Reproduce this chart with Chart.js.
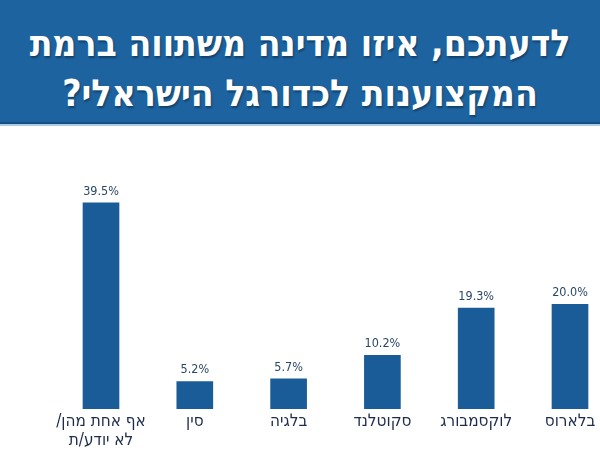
<!DOCTYPE html>
<html lang="he" dir="rtl">
<head>
<meta charset="utf-8">
<script src="https://cdn.jsdelivr.net/npm/chart.js@4"></script>
<style>
    html, body { margin: 0; padding: 0; background: #fff; }
    #wrap { width: 600px; height: 450px; position: relative; overflow: hidden; }
    #header {
        height: 124px;
        background: #1d63a0;
        border-bottom: 2px solid #174f82;
        box-shadow: 0 2px 0 #a9cbe8;
        color: #fff;
        text-align: center;
        font-family: "DejaVu Sans Condensed", "DejaVu Sans", sans-serif;
        font-weight: bold;
        font-size: 37px;
        line-height: 50px;
        padding-top: 19px;
        box-sizing: border-box;
        text-shadow: 1px 2px 2px rgba(0, 0, 0, 0.35);
    }
    #chartCountries { position: absolute; left: 0; top: 138px; }
</style>
</head>
<body>
<div id="wrap">
    <div id="header">לדעתכם, איזו מדינה משתווה ברמת<br>המקצוענות לכדורגל הישראלי?</div>
    <canvas id="chartCountries" width="600" height="316"></canvas>
</div>
<script>
// CATEGORIES (left to right, as in the picture)
var categories = [
    ["אף אחת מהן/", "לא יודע/ת"],
    "סין",
    "בלגיה",
    "סקוטלנד",
    "לוקסמבורג",
    "בלארוס"
];

// SERIES VALUES (percent)
var percentValues = [39.5, 5.2, 5.7, 10.2, 19.3, 20.0];

var barColor = "#1a5c98";

// VALUE LABELS ABOVE BARS
var valueLabels = {
    id: 'valueLabels',
    afterDatasetsDraw: function(chart) {
        var ctx = chart.ctx;
        var meta = chart.getDatasetMeta(0);
        ctx.save();
        ctx.font = "12.5px 'DejaVu Sans Condensed', 'DejaVu Sans', sans-serif";
        ctx.fillStyle = "#2b4766";
        ctx.textAlign = "center";
        ctx.textBaseline = "bottom";
        ctx.direction = "ltr";
        for (var i = 0; i < meta.data.length; i++) {
            var bar = meta.data[i];
            ctx.fillText(percentValues[i].toFixed(1) + "%", bar.x, bar.y - 5);
        }
        ctx.restore();
    }
};

var ctx = document.getElementById("chartCountries").getContext('2d');
var countriesChart = new Chart(ctx, {
    type: 'bar',
    data: {
        labels: categories,
        datasets: [{
            data: percentValues,
            backgroundColor: barColor,
            barThickness: 36,
            clip: false
        }]
    },
    options: {
        responsive: false,
        animation: false,
        layout: {
            padding: { left: 101, right: 30, top: 10, bottom: 0 }
        },
        plugins: {
            legend: { display: false },
            tooltip: { enabled: false }
        },
        scales: {
            x: {
                offset: false,
                grid: { display: false, drawTicks: false },
                border: { display: false },
                ticks: {
                    color: "#1e2c4c",
                    font: { family: "'DejaVu Sans Condensed', 'DejaVu Sans', sans-serif", size: 17, lineHeight: 1.1 },
                    padding: 4,
                    maxRotation: 0,
                    autoSkip: false
                }
            },
            y: {
                display: false,
                min: 0,
                max: 50
            }
        }
    },
    plugins: [valueLabels]
});
</script>
</body>
</html>
